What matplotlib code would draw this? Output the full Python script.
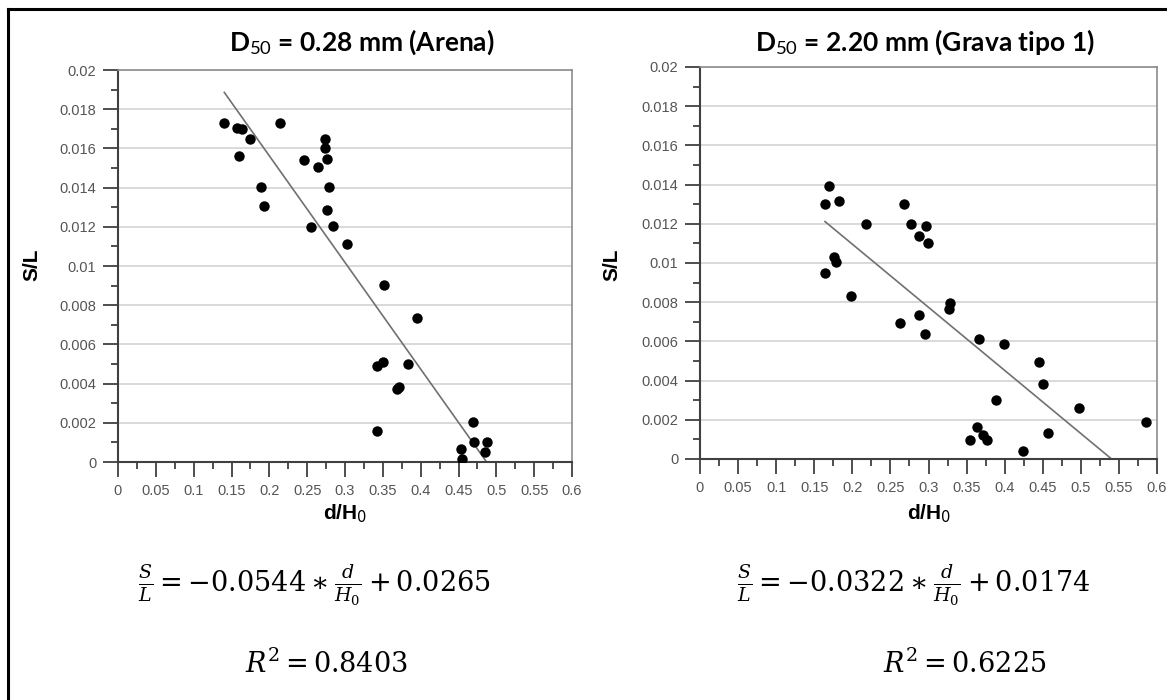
import matplotlib.pyplot as plt
from matplotlib.lines import Line2D
from matplotlib.ticker import MultipleLocator, FuncFormatter

plt.rcParams['mathtext.fontset'] = 'custom'
plt.rcParams['mathtext.rm'] = 'Lato'
plt.rcParams['mathtext.it'] = 'Lato:italic'
plt.rcParams['mathtext.bf'] = 'Lato:bold'

# Arena, D50 = 0.28 mm
x_arena = [0.1405, 0.1569, 0.1635, 0.1744, 0.1603, 0.189, 0.193, 0.2141, 0.2458,
           0.2647, 0.2736, 0.2736, 0.2766, 0.2793, 0.2758, 0.2546, 0.2845, 0.3029,
           0.3515, 0.3956, 0.3427, 0.3497, 0.3827, 0.3682, 0.3708, 0.3419, 0.4691,
           0.4533, 0.4546, 0.4700, 0.4871, 0.4853]
y_arena = [0.01728, 0.01703, 0.01699, 0.01646, 0.01561, 0.01403, 0.01308, 0.01728, 0.01541,
           0.01507, 0.01648, 0.01604, 0.01546, 0.01403, 0.01286, 0.01200, 0.01206, 0.01111,
           0.00903, 0.00736, 0.0049, 0.00512, 0.00502, 0.00371, 0.00384, 0.0016, 0.00202,
           0.00066, 0.00017, 0.00102, 0.00104, 0.00051]

# Grava tipo 1, D50 = 2.20 mm
x_grava = [0.1698, 0.1645, 0.1821, 0.2179, 0.2682, 0.2766, 0.2967, 0.2871, 0.2998,
           0.1759, 0.1785, 0.1641, 0.198, 0.2626, 0.2875, 0.2954, 0.3282, 0.3273,
           0.3663, 0.3991, 0.4455, 0.4499, 0.3886, 0.498, 0.5855, 0.3632, 0.3545,
           0.3711, 0.3772, 0.4573, 0.4236]
y_grava = [0.01395, 0.01299, 0.01315, 0.01197, 0.01299, 0.01197, 0.0119, 0.01139, 0.011,
           0.01029, 0.01007, 0.00947, 0.0083, 0.00692, 0.00735, 0.00638, 0.00798, 0.00767,
           0.00611, 0.00587, 0.00496, 0.00383, 0.00299, 0.00262, 0.00187, 0.00162, 0.00097,
           0.00122, 0.00097, 0.00131, 0.00041]

# ajustes lineales (pendiente, ordenada, R2)
ajuste_arena = (-0.0544, 0.0265, '0.8403')
ajuste_grava = (-0.0322, 0.0174, '0.6225')

titulos = ['D$_{50}$ = 0.28 mm (Arena)', 'D$_{50}$ = 2.20 mm (Grava tipo 1)']


def fmt(v, pos):
    return f'{v:.3f}'.rstrip('0').rstrip('.') if v != 0 else '0'


def generar_grafico(fig, rect, x, y, ajuste):
    ax = fig.add_axes(rect)
    ax.set_xlim(0, 0.6)
    ax.set_ylim(0, 0.02)
    ax.xaxis.set_major_locator(MultipleLocator(0.05))
    ax.xaxis.set_minor_locator(MultipleLocator(0.025))
    ax.yaxis.set_major_locator(MultipleLocator(0.002))
    ax.yaxis.set_minor_locator(MultipleLocator(0.001))
    ax.xaxis.set_major_formatter(FuncFormatter(fmt))
    ax.yaxis.set_major_formatter(FuncFormatter(fmt))
    ax.grid(axis='y', which='major', color='#d9d9d9', lw=1.4, zorder=0)
    ax.set_axisbelow(True)

    for lado in ['top', 'right']:
        ax.spines[lado].set_color('#8c8c8c')
        ax.spines[lado].set_linewidth(1.2)
    for lado in ['left', 'bottom']:
        ax.spines[lado].set_color('#404040')
        ax.spines[lado].set_linewidth(1.5)

    ax.tick_params(which='major', length=11, width=1.3, color='#404040',
                   labelsize=10.5, labelcolor='#555555', pad=4.5)
    ax.tick_params(which='minor', length=5, width=1.3, color='#404040')
    for lbl in ax.get_xticklabels() + ax.get_yticklabels():
        lbl.set_fontfamily('Liberation Sans')

    m, b, _ = ajuste
    x0 = min(x)
    x1 = -b / m
    ax.plot([x0, x1], [m * x0 + b, m * x1 + b], color='#707070', lw=1.2, zorder=2)
    ax.plot(x, y, 'o', color='black', markersize=7.5, markeredgewidth=0, zorder=3)
    ax.set_clip_on(False)
    return ax


fig = plt.figure(figsize=(11.67, 7), dpi=100)
W, H = 1167, 700

generar_grafico(fig, [118 / W, 1 - 462 / H, 454 / W, 392 / H], x_arena, y_arena, ajuste_arena)
generar_grafico(fig, [700 / W, 1 - 459 / H, 457 / W, 392 / H], x_grava, y_grava, ajuste_grava)

# títulos
fig.text(362 / W, 1 - 42 / H, titulos[0], ha='center', va='center',
         fontsize=19, fontweight='bold', family='Lato')
fig.text(925 / W, 1 - 42 / H, titulos[1], ha='center', va='center',
         fontsize=19, fontweight='bold', family='Lato')

# etiquetas de ejes
for xp, yp in [(32, 265), (612, 265)]:
    fig.text(xp / W, 1 - yp / H, 'S/L', rotation=90, ha='center', va='center',
             fontsize=15, fontweight='bold', family='Liberation Sans')
for xp, yp in [(345, 514), (929, 514)]:
    fig.text(xp / W, 1 - yp / H, 'd/H$_0$', ha='center', va='center',
             fontsize=15, fontweight='bold', family='Liberation Sans',
             math_fontfamily='dejavusans')

# ecuaciones
ecuaciones = [
    (314, ajuste_arena, 326),
    (914, ajuste_grava, 965),
]
for xe, (m, b, r2), xr in ecuaciones:
    txt = r'$\frac{S}{L} = %.4f \ast \frac{d}{H_0} + %.4f$' % (m, b)
    txt = txt.replace('-', '−')
    fig.text(xe / W, 1 - 585 / H, txt, ha='center', va='center', fontsize=19.5,
             math_fontfamily='dejavuserif')
    fig.text(xr / W, 1 - 664 / H, r'$R^2 = %s$' % r2, ha='center', va='center',
             fontsize=19.5, math_fontfamily='dejavuserif')

# marco
fig.add_artist(Line2D([7.5 / W, 1], [1 - 9 / H, 1 - 9 / H], color='black', lw=2.2,
                      transform=fig.transFigure))
fig.add_artist(Line2D([7.5 / W, 7.5 / W], [0, 1 - 9 / H], color='black', lw=2.2,
                      transform=fig.transFigure))

fig.savefig('out.png', dpi=100)
